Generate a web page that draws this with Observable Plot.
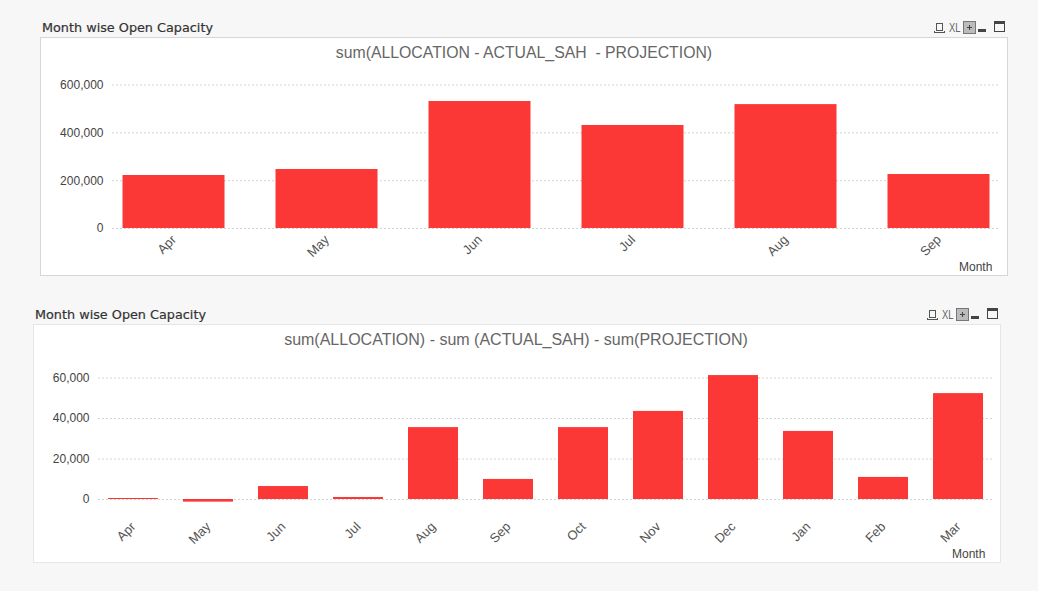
<!DOCTYPE html>
<html><head><meta charset="utf-8">
<script src="https://cdn.jsdelivr.net/npm/d3@7"></script>
<script src="https://cdn.jsdelivr.net/npm/@observablehq/plot@0.6"></script>
<style>
html,body{margin:0;padding:0;background:#f7f7f7;width:1038px;height:591px;overflow:hidden}
body{position:relative;font-family:"Liberation Sans",Arial,sans-serif}
.panel{position:absolute;width:966px;height:237px;background:#fff;border:1px solid #dcdcdc}
.panel svg{position:absolute;left:-1px;top:-1px;background:transparent;overflow:visible;max-width:none;width:968px;height:239px}
.head{position:absolute;font:12.8px/16px "DejaVu Sans",sans-serif;color:#333;-webkit-text-stroke:.2px #333;white-space:nowrap}
.ctitle{position:absolute;width:966px;text-align:center;line-height:18px;color:#666;white-space:pre}
.month{position:absolute;font-size:12px;line-height:14px;color:#444}
.ic{position:absolute;box-sizing:border-box}
.xl{position:absolute;font:13px/12px "Liberation Sans",sans-serif;color:#666;transform:scaleX(.72);transform-origin:left}
</style></head><body>
<script>
const monthsA = ["Apr","May","Jun","Jul","Aug","Sep"];
const valuesA = [221600,246700,531000,430700,518000,225800];
const ticksA = [0,200000,400000,600000];
const titleA = "sum(ALLOCATION - ACTUAL_SAH  - PROJECTION)";
const monthsB = ["Apr","May","Jun","Jul","Aug","Sep","Oct","Nov","Dec","Jan","Feb","Mar"];
const valuesB = [500,-1300,6400,1000,35500,9900,35500,43500,61200,33600,10900,52300];
const ticksB = [0,20000,40000,60000];
const titleB = "sum(ALLOCATION) - sum (ACTUAL_SAH) - sum(PROJECTION)";
const header = "Month wise Open Capacity";
const axisLabel = "Month";
const barColor = "#fb3836";

function chart(cats, vals, ticks, o){
  const data = cats.map((c,i)=>({c, v:vals[i]}));
  return Plot.plot({
    width:968, height:239,
    marginLeft:o.ml, marginRight:o.mr, marginTop:o.mt, marginBottom:o.mb,
    style:{background:"transparent",fontFamily:"'Liberation Sans',Arial,sans-serif",fontSize:"12px",color:"#444"},
    x:{domain:cats, paddingInner:1/3, paddingOuter:o.po, align:0.5, round:false, label:null},
    y:{domain:[0,ticks[ticks.length-1]], label:null},
    marks:[
      Plot.ruleY(ticks,{stroke:"#d4d4d4",strokeDasharray:"2,2",strokeWidth:1}),
      Plot.barY(data,{x:"c",y:"v",fill:barColor}),
      Plot.axisY({ticks,tickSize:0,tickPadding:o.ypad,tickFormat:d3.format(","),fill:"#444",label:null}),
      Plot.axisX({tickSize:0,tickPadding:o.xpad,tickRotate:-45,fill:"#555",label:null,fontSize:13})
    ]
  });
}
function icons(x,y){
  const add=(l,t,w,h,css)=>{const d=document.createElement("div");d.className="ic";d.style.cssText=`left:${x+l}px;top:${y+t}px;width:${w}px;height:${h}px;${css}`;document.body.append(d)};
  add(2,1,7,8,"border:1px solid #555");
  add(0,9,11,2,"border:1px solid #555;border-top:0");
  const xl=document.createElement("div");xl.className="xl";xl.textContent="XL";xl.style.left=(x+15)+"px";xl.style.top=(y)+"px";document.body.append(xl);
  add(29,-1,13,13,"background:#bbb;border:1px solid #777");
  add(33,5,5,1,"background:#444");
  add(35,3,1,5,"background:#444");
  add(44,7,8,3,"background:#444");
  add(60,-1,11,11,"border:1px solid #444;border-top-width:3px");
}
function panel(px,py,cats,vals,ticks,title,o,tt){
  const p=document.createElement("div");p.className="panel";p.style.left=px+"px";p.style.top=py+"px";p.style.borderColor=o.bc;
  p.append(chart(cats,vals,ticks,o));
  const t=document.createElement("div");t.className="ctitle";t.textContent=title;t.style.top=tt+"px";t.style.left=o.tl+"px";t.style.fontSize=o.fs+"px";p.append(t);
  const m=document.createElement("div");m.className="month";m.textContent=axisLabel;m.style.left=o.mx+"px";m.style.top=o.my+"px";p.append(m);
  document.body.append(p);
  const h=document.createElement("div");h.className="head";h.textContent=header;h.style.left=(px+2)+"px";h.style.top=(py-17)+"px";document.body.append(h);
  icons(px+894,py-15);
}
panel(40,37,monthsA,valuesA,ticksA,titleA,{ml:72,mr:8,mt:47.5,mb:48,po:0.0687,ypad:9,xpad:9,bc:"#d6d6d6",mx:918,my:222,fs:15.8,tl:0},6);
panel(33,324,monthsB,valuesB,ticksB,titleB,{ml:65,mr:8,mt:53.5,mb:64,po:0.133,ypad:9,xpad:25,bc:"#e6e6e6",mx:918,my:222,fs:16,tl:-1},6);
</script>
</body></html>
